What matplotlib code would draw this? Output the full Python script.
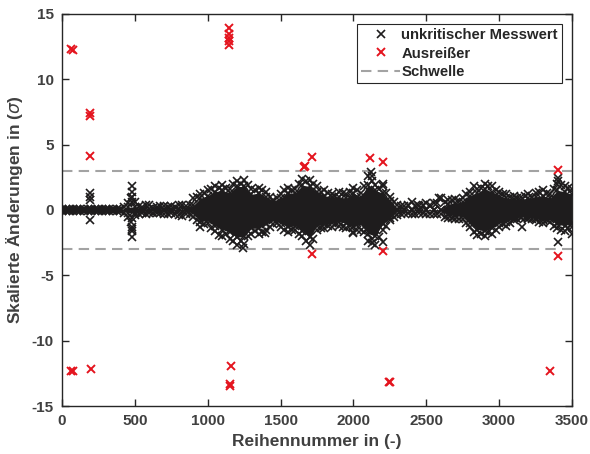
import matplotlib
matplotlib.use("Agg")
import matplotlib.pyplot as plt
from matplotlib.lines import Line2D
import numpy as np

plt.rcParams['font.family'] = ['Liberation Sans', 'DejaVu Sans']
plt.rcParams['axes.unicode_minus'] = False
plt.rcParams['mathtext.fontset'] = 'dejavusans'

# ---------------- data ----------------
# positions of the envelope readings (row number)
env_x = list(range(0, 3501, 50))
# outer extent of the unremarkable values (upper / lower)
env_hi = [0.05, 0.05, 0.05, 0.05, 0.1, 0.05, 0.05, 0.05, 0.1, 0.5,
          0.6, 0.2, 0.35, 0.2, 0.3, 0.3, 0.4, 0.3, 0.9, 1.2,
          1.5, 1.8, 1.9, 1.6, 2.2, 2.3, 1.6, 1.7, 1.4, 0.8,
          1.2, 1.7, 1.6, 2.4, 2.3, 1.8, 1.5, 1.2, 1.4, 1.2,
          1.7, 1.3, 2.6, 1.9, 1.8, 1.0, 0.4, 0.3, 0.6, 0.3,
          0.5, 0.5, 0.9, 0.75, 0.85, 0.9, 1.4, 1.6, 2.0, 1.8,
          1.4, 1.2, 1.1, 1.0, 1.2, 1.3, 1.5, 1.2, 2.0, 1.8, 1.6]
env_lo = [-0.05, -0.05, -0.05, -0.05, -0.05, -0.05, -0.05, -0.05, -0.1, -0.5,
          -0.4, -0.2, -0.2, -0.2, -0.3, -0.2, -0.4, -0.3, -0.5, -1.3,
          -1.0, -1.6, -2.0, -2.2, -2.7, -2.6, -1.8, -1.8, -1.5, -1.1,
          -1.3, -1.7, -1.5, -2.0, -2.7, -1.5, -1.4, -1.3, -1.2, -1.4,
          -1.7, -1.5, -2.4, -2.7, -1.5, -0.8, -0.4, -0.25, -0.3, -0.25,
          -0.3, -0.3, -0.3, -0.6, -0.7, -0.7, -1.3, -1.9, -2.0, -1.8,
          -1.3, -1.2, -0.8, -0.6, -0.7, -0.8, -1.0, -0.9, -1.4, -1.6, -1.3]
# intermediate readings between the envelope positions
mid_x = list(range(25, 3500, 50))
mid_hi = [0.05, 0.05, 0.05, 0.05, 0.05, 0.05, 0.05, 0.05, 0.2, 0.9,
          0.3, 0.35, 0.15, 0.3, 0.25, 0.25, 0.35, 0.4, 1.0, 1.3,
          1.6, 1.7, 1.7, 2.0, 2.0, 1.9, 1.5, 1.5, 1.0, 0.9,
          1.5, 1.5, 2.0, 2.2, 2.0, 1.4, 1.3, 1.1, 1.3, 1.4,
          1.5, 1.8, 2.2, 1.6, 1.3, 0.6, 0.3, 0.4, 0.3, 0.35,
          0.4, 0.5, 0.6, 0.8, 0.7, 1.2, 1.8, 1.7, 1.8, 1.5,
          1.2, 1.0, 0.9, 1.1, 1.0, 1.4, 1.3, 1.6, 1.9, 1.7]
mid_lo = [-0.05, -0.05, -0.05, -0.05, -0.05, -0.05, -0.05, -0.05, -0.2, -0.9,
          -0.3, -0.3, -0.2, -0.25, -0.3, -0.3, -0.45, -0.3, -0.8, -1.1,
          -1.4, -1.9, -1.8, -2.4, -2.4, -2.0, -1.6, -1.7, -1.3, -1.0,
          -1.5, -1.5, -1.8, -2.4, -2.2, -1.4, -1.2, -1.1, -1.3, -1.2,
          -1.5, -1.7, -2.2, -2.1, -1.2, -0.5, -0.3, -0.25, -0.3, -0.25,
          -0.3, -0.3, -0.5, -0.6, -0.7, -1.0, -1.7, -1.8, -1.7, -1.5,
          -1.1, -1.0, -0.7, -0.6, -0.7, -0.9, -0.8, -1.2, -1.5, -1.4]
# extent of the densely filled core around zero (upper / lower)
core_hi = [0.02, 0.02, 0.02, 0.02, 0.02, 0.02, 0.02, 0.02, 0.02, 0.2,
           0.25, 0.05, 0.05, 0.05, 0.05, 0.05, 0.05, 0.05, 0.35, 0.9,
           1.1, 1.4, 1.5, 1.3, 1.8, 1.8, 1.2, 1.3, 1.0, 0.7,
           0.9, 1.3, 1.3, 1.9, 1.8, 1.4, 1.1, 1.0, 1.0, 0.9,
           1.3, 1.0, 1.9, 1.5, 1.3, 0.7, 0.1, 0.02, 0.02, 0.02,
           0.02, 0.02, 0.02, 0.45, 0.55, 0.6, 1.1, 1.3, 1.6, 1.4,
           1.1, 0.9, 0.85, 0.8, 0.9, 1.0, 1.1, 0.9, 1.5, 1.4, 1.2]
core_lo = [-0.02, -0.02, -0.02, -0.02, -0.02, -0.02, -0.02, -0.02, -0.02, -0.2,
           -0.2, -0.05, -0.05, -0.05, -0.05, -0.05, -0.05, -0.05, -0.25, -0.9,
           -0.8, -1.2, -1.5, -1.7, -2.1, -2.0, -1.4, -1.4, -1.1, -0.8,
           -1.0, -1.3, -1.2, -1.6, -2.1, -1.2, -1.1, -1.0, -0.9, -1.0,
           -1.3, -1.1, -1.8, -2.0, -1.1, -0.6, -0.1, -0.02, -0.02, -0.02,
           -0.02, -0.02, -0.02, -0.35, -0.45, -0.45, -1.0, -1.5, -1.6, -1.4,
           -1.0, -0.9, -0.65, -0.5, -0.55, -0.65, -0.8, -0.7, -1.1, -1.2, -1.0]
# isolated unremarkable values
sparse_x = [195, 195, 195, 195,
            480, 480, 480, 480, 480, 480, 480, 480, 480,
            1240, 1393, 2000, 2120, 2125, 2125, 2205, 2205,
            3407, 3407, 3407, 3498, 2440, 2590, 3160]
sparse_y = [1.3, 1.0, 0.75, -0.8,
            1.8, 1.4, 1.0, 0.65, -0.65, -1.3, -1.45, -1.6, -2.1,
            -2.9, -1.77, -1.74, 2.9, 2.6, -2.5, -2.42, 2.0,
            2.45, 2.2, -2.42, -1.8, 0.4, 0.9, -1.3]
# outliers (Ausreißer)
out_x = [60, 75, 192, 192, 192,
         1148, 1148, 1148, 1148, 1148,
         60, 75, 197, 1158, 1150, 1152,
         1664, 1670, 1714, 2114, 2205, 3407,
         1714, 2205, 3407, 2242, 2250, 3349]
out_y = [12.3, 12.25, 7.4, 7.2, 4.13,
         13.9, 13.5, 13.2, 12.9, 12.65,
         -12.3, -12.3, -12.2, -11.9, -13.3, -13.45,
         3.3, 3.39, 4.08, 3.95, 3.65, 3.06,
         -3.37, -3.14, -3.52, -13.2, -13.15, -12.3]
threshold = 3

x_ticks = [0, 500, 1000, 1500, 2000, 2500, 3000, 3500]
y_ticks = [-15, -10, -5, 0, 5, 10, 15]
x_label = "Reihennummer in (-)"
y_label = r"Skalierte Änderungen in ($\sigma$)"
legend_labels = ["unkritischer Messwert", "Ausreißer", "Schwelle"]

# ---------------- drawing ----------------
black = '#1e1c1d'
red = '#e4141e'
grey = '#a3a3a3'
txt = '#404040'

fig = plt.figure(figsize=(5.9, 4.54), dpi=100)
ax = fig.add_axes([0.1051, 0.1057, 0.8644, 0.8635])

ex = np.array(env_x)
ax.axhline(threshold, color=grey, lw=1.5, dashes=(5, 3), zorder=1)
ax.axhline(-threshold, color=grey, lw=1.5, dashes=(5, 3), zorder=1)

ax.fill_between(ex, core_lo, core_hi, color=black, lw=0, zorder=2)
mk = dict(marker='x', ls='none', ms=5.2, mew=1.2, zorder=3)
ax.plot(ex, core_hi, color=black, **mk)
ax.plot(ex, core_lo, color=black, **mk)
ax.plot(mid_x, mid_hi, color=black, **mk)
ax.plot(mid_x, mid_lo, color=black, **mk)
ax.plot(ex, env_hi, color=black, **mk)
ax.plot(ex, env_lo, color=black, **mk)
ax.plot(sparse_x, sparse_y, color=black, **mk)
ax.plot(out_x, out_y, color=red, marker='x', ls='none', ms=5.2, mew=1.4, zorder=4)

ax.set_xlim(0, 3500)
ax.set_ylim(-15, 15)
ax.set_xticks(x_ticks)
ax.set_yticks(y_ticks)
ax.tick_params(direction='in', top=True, right=True, length=5, width=1,
               color='#262626', labelsize=11, labelcolor=txt, pad=6)
for lab in ax.get_xticklabels() + ax.get_yticklabels():
    lab.set_fontweight('bold')
for s in ax.spines.values():
    s.set_color('#262626')
    s.set_linewidth(1)

ax.set_xlabel(x_label, fontsize=12.5, fontweight='bold', color=txt, labelpad=4)
ax.set_ylabel(y_label, fontsize=12.5, fontweight='bold', color=txt, labelpad=5)

handles = [Line2D([], [], color=black, marker='x', ls='none', ms=5.2, mew=1.2),
           Line2D([], [], color=red, marker='x', ls='none', ms=5.2, mew=1.4),
           Line2D([], [], color=grey, lw=1.5, dashes=(5, 3))]
leg = ax.legend(handles, legend_labels, loc='upper right', fancybox=False,
                framealpha=1, edgecolor='#262626', borderaxespad=0.65,
                handlelength=2.6, handletextpad=0.1, borderpad=0.3,
                labelspacing=0.3, prop={'weight': 'bold', 'size': 10.7})
leg.get_frame().set_linewidth(0.8)
for t in leg.get_texts():
    t.set_color('#262626')

fig.savefig('out.png', dpi=100)
